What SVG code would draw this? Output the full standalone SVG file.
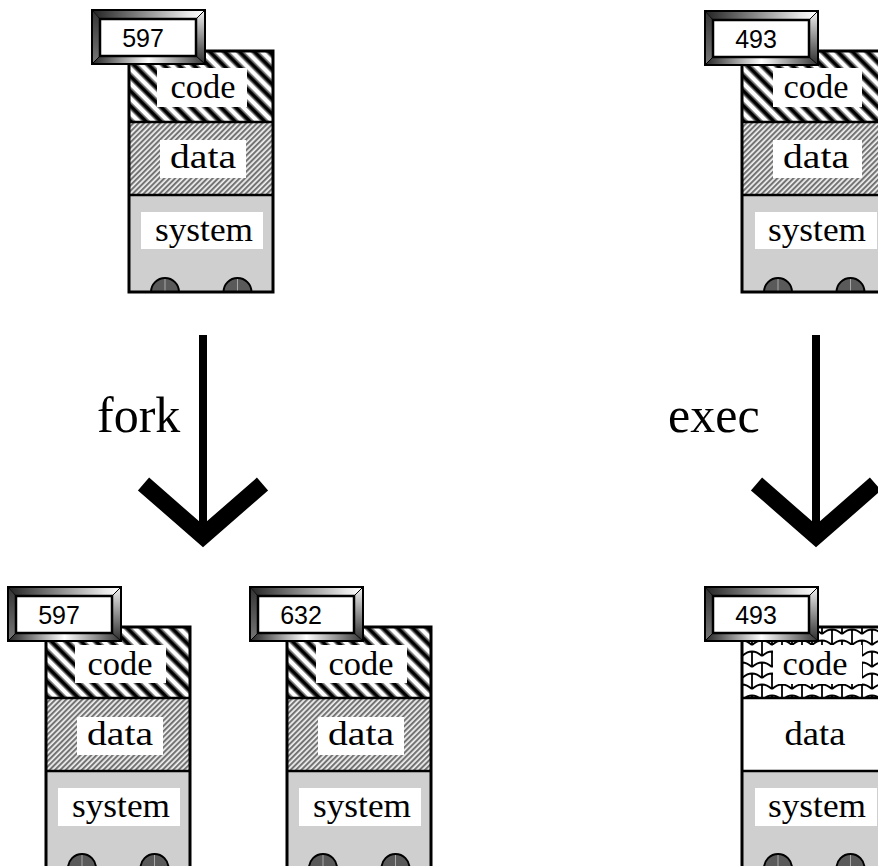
<svg xmlns="http://www.w3.org/2000/svg" xmlns:xlink="http://www.w3.org/1999/xlink" width="878" height="866" viewBox="0 0 878 866">
  <style>
    .outline { fill: none; stroke: #000; stroke-width: 3; }
    .divider { stroke: #000; stroke-width: 2.5; }
    .label-bg { fill: #fff; }
    .seg-label { font-family: "Liberation Serif", "Times New Roman", serif; font-size: 33px; fill: #000; text-anchor: middle; }
    .pid { font-family: "Liberation Sans", Arial, sans-serif; font-size: 25px; fill: #000; text-anchor: middle; }
    .verb { font-family: "Liberation Serif", "Times New Roman", serif; font-size: 50px; fill: #000; }
    .system { fill: #cfcfcf; }
    .wheel { fill: #5a5a5a; stroke: #000; stroke-width: 2; }
    .axle { stroke: #a8a8a8; stroke-width: 1; }
    .shaft { stroke: #000; stroke-width: 8; fill: none; }
    .head { stroke: #000; stroke-width: 17; fill: none; stroke-linejoin: miter; stroke-miterlimit: 4; }
  </style>
  <defs>
    <!-- bold diagonal stripes for the code segment -->
    <pattern id="stripesWide" width="10.5" height="10.5" patternUnits="userSpaceOnUse" patternTransform="rotate(-45)">
      <rect width="10.5" height="10.5" fill="#fff"/>
      <rect x="1" width="1.2" height="10.5" fill="#8c8c8c"/>
      <rect x="2.2" width="4.2" height="10.5" fill="#000"/>
      <rect x="6.4" width="1.2" height="10.5" fill="#8c8c8c"/>
    </pattern>
    <!-- fine hatching for the data segment -->
    <pattern id="stripesFine" width="3.8" height="3.8" patternUnits="userSpaceOnUse" patternTransform="rotate(45)">
      <rect width="3.8" height="3.8" fill="#f0f0f0"/>
      <rect x="0" width="0.5" height="3.8" fill="#888"/>
      <rect x="0.5" width="1.1" height="3.8" fill="#2a2a2a"/>
      <rect x="1.6" width="0.5" height="3.8" fill="#888"/>
    </pattern>
    <!-- scale texture for the new program's code -->
    <pattern id="scales" width="20" height="22" patternUnits="userSpaceOnUse">
      <rect width="20" height="22" fill="#fff"/>
      <path d="M0,7 Q10,-2 20,7 M10,2.5 V18 M-10,18 Q0,9 10,18 M10,18 Q20,9 30,18 M0,13.5 V22 M20,13.5 V22 M0,0 V7 M20,0 V7" fill="none" stroke="#000" stroke-width="1.8"/>
    </pattern>
    <linearGradient id="bevelTop" x1="0" y1="0" x2="1" y2="0">
      <stop offset="0" stop-color="#222"/>
      <stop offset="0.45" stop-color="#8a8a8a"/>
      <stop offset="0.85" stop-color="#e8e8e8"/>
      <stop offset="1" stop-color="#ffffff"/>
    </linearGradient>
    <linearGradient id="bevelBottom" x1="0" y1="0" x2="1" y2="0">
      <stop offset="0" stop-color="#222"/>
      <stop offset="0.5" stop-color="#ffffff"/>
      <stop offset="1" stop-color="#333"/>
    </linearGradient>
    <linearGradient id="bevelLeft" x1="0" y1="0" x2="0" y2="1">
      <stop offset="0" stop-color="#333"/>
      <stop offset="1" stop-color="#777"/>
    </linearGradient>
    <linearGradient id="bevelRight" x1="0" y1="0" x2="0" y2="1">
      <stop offset="0" stop-color="#f4f4f4"/>
      <stop offset="1" stop-color="#2a2a2a"/>
    </linearGradient>
    <!-- bevelled process-id plate -->
    <g id="tagFrame">
      <polygon points="0,0 113,0 104,9 8,9" fill="url(#bevelTop)"/>
      <polygon points="0,54 8,46 104,46 113,54" fill="url(#bevelBottom)"/>
      <polygon points="0,0 8,9 8,46 0,54" fill="url(#bevelLeft)"/>
      <polygon points="113,0 104,9 104,46 113,54" fill="url(#bevelRight)"/>
      <path d="M0,0 L8,9 M113,0 L104,9 M0,54 L8,46 M113,54 L104,46" stroke="#000" stroke-width="1"/>
      <rect x="8" y="9" width="96" height="37" fill="#fff" stroke="#000" stroke-width="2.5"/>
      <rect x="0" y="0" width="113" height="54" fill="none" stroke="#000" stroke-width="2"/>
    </g>
    <g id="wheels">
      <path class="wheel" d="M22,241 A14,14 0 0 1 50,241 Z"/>
      <line class="axle" x1="36" y1="228" x2="36" y2="240"/>
      <path class="wheel" d="M94.5,241 A14,14 0 0 1 122.5,241 Z"/>
      <line class="axle" x1="108.5" y1="228" x2="108.5" y2="240"/>
    </g>
  </defs>

  <!-- parent process before fork -->
  <g id="proc-597-parent" transform="translate(129,51)">
    <rect x="0" y="0" width="144" height="71" fill="url(#stripesWide)"/>
    <rect x="0" y="71" width="144" height="73" fill="url(#stripesFine)"/>
    <rect class="system" x="0" y="144" width="144" height="97"/>
    <rect class="label-bg" x="28" y="17" width="90" height="39"/>
    <rect class="label-bg" x="31" y="89" width="86" height="38"/>
    <rect class="label-bg" x="12" y="161" width="122" height="37"/>
    <text class="seg-label" x="74" y="47" textLength="65" lengthAdjust="spacingAndGlyphs">code</text>
    <text class="seg-label" x="74" y="117" textLength="66" lengthAdjust="spacingAndGlyphs">data</text>
    <text class="seg-label" x="75" y="190" textLength="98" lengthAdjust="spacingAndGlyphs">system</text>
    <line class="divider" x1="0" y1="71" x2="144" y2="71"/>
    <line class="divider" x1="0" y1="144" x2="144" y2="144"/>
    <use xlink:href="#wheels"/>
    <rect class="outline" x="0" y="0" width="144" height="241"/>
    <use xlink:href="#tagFrame" x="-37" y="-41"/>
    <text class="pid" x="14" y="-4">597</text>
  </g>

  <!-- process before exec -->
  <g id="proc-493-before" transform="translate(742,51)">
    <rect x="0" y="0" width="144" height="71" fill="url(#stripesWide)"/>
    <rect x="0" y="71" width="144" height="73" fill="url(#stripesFine)"/>
    <rect class="system" x="0" y="144" width="144" height="97"/>
    <rect class="label-bg" x="31" y="17" width="89" height="39"/>
    <rect class="label-bg" x="31" y="89" width="89" height="38"/>
    <rect class="label-bg" x="13" y="161" width="122" height="37"/>
    <text class="seg-label" x="74" y="47" textLength="65" lengthAdjust="spacingAndGlyphs">code</text>
    <text class="seg-label" x="74" y="117" textLength="66" lengthAdjust="spacingAndGlyphs">data</text>
    <text class="seg-label" x="75" y="190" textLength="98" lengthAdjust="spacingAndGlyphs">system</text>
    <line class="divider" x1="0" y1="71" x2="144" y2="71"/>
    <line class="divider" x1="0" y1="144" x2="144" y2="144"/>
    <use xlink:href="#wheels"/>
    <rect class="outline" x="0" y="0" width="144" height="241"/>
    <use xlink:href="#tagFrame" x="-37" y="-40"/>
    <text class="pid" x="14" y="-3">493</text>
  </g>

  <!-- parent after fork -->
  <g id="proc-597-after" transform="translate(46,627)">
    <rect x="0" y="0" width="144" height="71" fill="url(#stripesWide)"/>
    <rect x="0" y="71" width="144" height="73" fill="url(#stripesFine)"/>
    <rect class="system" x="0" y="144" width="144" height="97"/>
    <rect class="label-bg" x="29" y="18" width="91" height="38"/>
    <rect class="label-bg" x="31" y="90" width="86" height="38"/>
    <rect class="label-bg" x="12" y="161" width="122" height="38"/>
    <text class="seg-label" x="74" y="48" textLength="65" lengthAdjust="spacingAndGlyphs">code</text>
    <text class="seg-label" x="74" y="118" textLength="66" lengthAdjust="spacingAndGlyphs">data</text>
    <text class="seg-label" x="75" y="190" textLength="98" lengthAdjust="spacingAndGlyphs">system</text>
    <line class="divider" x1="0" y1="71" x2="144" y2="71"/>
    <line class="divider" x1="0" y1="144" x2="144" y2="144"/>
    <use xlink:href="#wheels"/>
    <rect class="outline" x="0" y="0" width="144" height="241"/>
    <use xlink:href="#tagFrame" x="-38" y="-40"/>
    <text class="pid" x="13" y="-3">597</text>
  </g>

  <!-- child created by fork -->
  <g id="proc-632-child" transform="translate(287,627)">
    <rect x="0" y="0" width="144" height="71" fill="url(#stripesWide)"/>
    <rect x="0" y="71" width="144" height="73" fill="url(#stripesFine)"/>
    <rect class="system" x="0" y="144" width="144" height="97"/>
    <rect class="label-bg" x="29" y="18" width="91" height="38"/>
    <rect class="label-bg" x="31" y="90" width="86" height="38"/>
    <rect class="label-bg" x="12" y="161" width="122" height="38"/>
    <text class="seg-label" x="74" y="48" textLength="65" lengthAdjust="spacingAndGlyphs">code</text>
    <text class="seg-label" x="74" y="118" textLength="66" lengthAdjust="spacingAndGlyphs">data</text>
    <text class="seg-label" x="75" y="190" textLength="98" lengthAdjust="spacingAndGlyphs">system</text>
    <line class="divider" x1="0" y1="71" x2="144" y2="71"/>
    <line class="divider" x1="0" y1="144" x2="144" y2="144"/>
    <use xlink:href="#wheels"/>
    <rect class="outline" x="0" y="0" width="144" height="241"/>
    <use xlink:href="#tagFrame" x="-37" y="-40"/>
    <text class="pid" x="14" y="-3">632</text>
  </g>

  <!-- same process after exec: new code, fresh data -->
  <g id="proc-493-after" transform="translate(742,627)">
    <rect x="0" y="0" width="144" height="71" fill="url(#scales)"/>
    <rect x="0" y="71" width="144" height="73" fill="#fff"/>
    <rect class="system" x="0" y="144" width="144" height="97"/>
    <rect class="label-bg" x="31" y="18" width="89" height="39"/>
    <rect class="label-bg" x="13" y="161" width="122" height="38"/>
    <text class="seg-label" x="73" y="48" textLength="65" lengthAdjust="spacingAndGlyphs">code</text>
    <text class="seg-label" x="73" y="118" textLength="61" lengthAdjust="spacingAndGlyphs">data</text>
    <text class="seg-label" x="75" y="190" textLength="98" lengthAdjust="spacingAndGlyphs">system</text>
    <line class="divider" x1="0" y1="71" x2="144" y2="71"/>
    <line class="divider" x1="0" y1="144" x2="144" y2="144"/>
    <use xlink:href="#wheels"/>
    <rect class="outline" x="0" y="0" width="144" height="241"/>
    <use xlink:href="#tagFrame" x="-37" y="-40"/>
    <text class="pid" x="14" y="-3">493</text>
  </g>

  <!-- transition arrows -->
  <g id="connectors">
    <line class="shaft" x1="203" y1="335" x2="203" y2="534"/>
    <polyline class="head" points="143.5,484 203,536 262.5,484"/>
    <line class="shaft" x1="816" y1="335" x2="816" y2="534"/>
    <polyline class="head" points="756.5,484 816,536 875.5,484"/>
    <text class="verb" x="97" y="432">fork</text>
    <text class="verb" x="668" y="432">exec</text>
  </g>
</svg>
